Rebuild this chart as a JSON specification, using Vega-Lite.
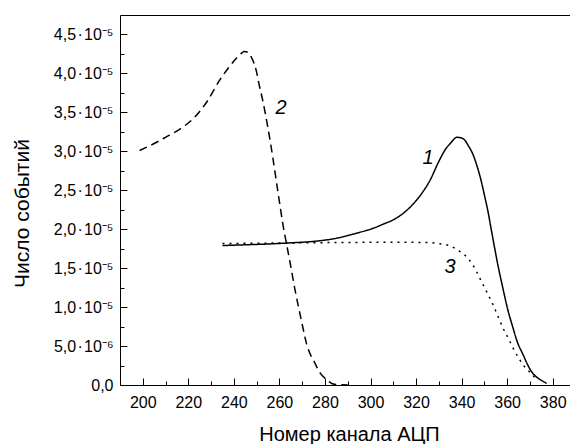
{
  "$schema": "https://vega.github.io/schema/vega-lite/v6.json",
  "width": 450,
  "height": 370,
  "autosize": {"type": "none"},
  "padding": {"left": 120, "top": 15, "right": 0, "bottom": 59},
  "background": "white",
  "config": {
    "view": {"stroke": null},
    "font": "Liberation Sans",
    "axis": {
      "grid": false,
      "tickColor": "black",
      "domainColor": "black",
      "labelColor": "black",
      "titleColor": "black",
      "labelFont": "Liberation Sans",
      "titleFont": "Liberation Sans",
      "labelFontSize": 16,
      "titleFontSize": 20,
      "titleFontWeight": "normal",
      "tickWidth": 1,
      "domainWidth": 1,
      "labelOverlap": false,
      "labelFlush": false
    }
  },
  "datasets": {
    "curves": [
      {"curve": "1", "x": 235, "y": 1.79e-5},
      {"curve": "1", "x": 245, "y": 1.80e-5},
      {"curve": "1", "x": 255, "y": 1.81e-5},
      {"curve": "1", "x": 265, "y": 1.825e-5},
      {"curve": "1", "x": 273.5, "y": 1.84e-5},
      {"curve": "1", "x": 280, "y": 1.86e-5},
      {"curve": "1", "x": 286, "y": 1.89e-5},
      {"curve": "1", "x": 294, "y": 1.95e-5},
      {"curve": "1", "x": 301, "y": 2.01e-5},
      {"curve": "1", "x": 306, "y": 2.07e-5},
      {"curve": "1", "x": 310, "y": 2.12e-5},
      {"curve": "1", "x": 315, "y": 2.22e-5},
      {"curve": "1", "x": 320, "y": 2.365e-5},
      {"curve": "1", "x": 323, "y": 2.48e-5},
      {"curve": "1", "x": 326, "y": 2.62e-5},
      {"curve": "1", "x": 330, "y": 2.87e-5},
      {"curve": "1", "x": 333, "y": 3.03e-5},
      {"curve": "1", "x": 335, "y": 3.10e-5},
      {"curve": "1", "x": 338, "y": 3.18e-5},
      {"curve": "1", "x": 340, "y": 3.17e-5},
      {"curve": "1", "x": 341.5, "y": 3.14e-5},
      {"curve": "1", "x": 343, "y": 3.07e-5},
      {"curve": "1", "x": 345, "y": 2.96e-5},
      {"curve": "1", "x": 347, "y": 2.79e-5},
      {"curve": "1", "x": 348.6, "y": 2.62e-5},
      {"curve": "1", "x": 350, "y": 2.44e-5},
      {"curve": "1", "x": 351.5, "y": 2.24e-5},
      {"curve": "1", "x": 353, "y": 2.00e-5},
      {"curve": "1", "x": 354.5, "y": 1.76e-5},
      {"curve": "1", "x": 356, "y": 1.53e-5},
      {"curve": "1", "x": 358, "y": 1.26e-5},
      {"curve": "1", "x": 360, "y": 1.00e-5},
      {"curve": "1", "x": 362.5, "y": 0.74e-5},
      {"curve": "1", "x": 364.5, "y": 0.55e-5},
      {"curve": "1", "x": 367, "y": 0.39e-5},
      {"curve": "1", "x": 369, "y": 0.26e-5},
      {"curve": "1", "x": 371, "y": 0.16e-5},
      {"curve": "1", "x": 373, "y": 0.10e-5},
      {"curve": "1", "x": 375, "y": 0.06e-5},
      {"curve": "1", "x": 377.4, "y": 0.02e-5},
      {"curve": "2", "x": 198.6, "y": 3.01e-5},
      {"curve": "2", "x": 205, "y": 3.10e-5},
      {"curve": "2", "x": 210, "y": 3.18e-5},
      {"curve": "2", "x": 216, "y": 3.28e-5},
      {"curve": "2", "x": 222, "y": 3.415e-5},
      {"curve": "2", "x": 228, "y": 3.63e-5},
      {"curve": "2", "x": 233.7, "y": 3.91e-5},
      {"curve": "2", "x": 239.5, "y": 4.14e-5},
      {"curve": "2", "x": 243, "y": 4.25e-5},
      {"curve": "2", "x": 244.5, "y": 4.28e-5},
      {"curve": "2", "x": 246.2, "y": 4.27e-5},
      {"curve": "2", "x": 248, "y": 4.19e-5},
      {"curve": "2", "x": 249.8, "y": 4.04e-5},
      {"curve": "2", "x": 251, "y": 3.87e-5},
      {"curve": "2", "x": 252.7, "y": 3.65e-5},
      {"curve": "2", "x": 254.9, "y": 3.31e-5},
      {"curve": "2", "x": 257.1, "y": 2.92e-5},
      {"curve": "2", "x": 259.3, "y": 2.49e-5},
      {"curve": "2", "x": 261.5, "y": 2.07e-5},
      {"curve": "2", "x": 264.5, "y": 1.60e-5},
      {"curve": "2", "x": 267, "y": 1.20e-5},
      {"curve": "2", "x": 269.5, "y": 0.85e-5},
      {"curve": "2", "x": 272, "y": 0.52e-5},
      {"curve": "2", "x": 275.6, "y": 0.28e-5},
      {"curve": "2", "x": 278, "y": 0.15e-5},
      {"curve": "2", "x": 280.7, "y": 0.07e-5},
      {"curve": "2", "x": 284, "y": 0.01e-5},
      {"curve": "2", "x": 290, "y": 0},
      {"curve": "3", "x": 235, "y": 1.815e-5},
      {"curve": "3", "x": 250, "y": 1.82e-5},
      {"curve": "3", "x": 270, "y": 1.825e-5},
      {"curve": "3", "x": 290, "y": 1.83e-5},
      {"curve": "3", "x": 310, "y": 1.832e-5},
      {"curve": "3", "x": 325, "y": 1.83e-5},
      {"curve": "3", "x": 330, "y": 1.815e-5},
      {"curve": "3", "x": 334.9, "y": 1.787e-5},
      {"curve": "3", "x": 339, "y": 1.72e-5},
      {"curve": "3", "x": 343, "y": 1.62e-5},
      {"curve": "3", "x": 346.4, "y": 1.465e-5},
      {"curve": "3", "x": 349.3, "y": 1.294e-5},
      {"curve": "3", "x": 351.5, "y": 1.17e-5},
      {"curve": "3", "x": 353.7, "y": 1.037e-5},
      {"curve": "3", "x": 356, "y": 0.88e-5},
      {"curve": "3", "x": 358.1, "y": 0.737e-5},
      {"curve": "3", "x": 360.5, "y": 0.60e-5},
      {"curve": "3", "x": 362.5, "y": 0.48e-5},
      {"curve": "3", "x": 365.4, "y": 0.33e-5},
      {"curve": "3", "x": 367.5, "y": 0.24e-5},
      {"curve": "3", "x": 369.8, "y": 0.17e-5},
      {"curve": "3", "x": 372, "y": 0.10e-5}
    ],
    "labels": [
      {"label": "1", "x": 325.3, "y": 2.92e-5},
      {"label": "2", "x": 260.7, "y": 3.556e-5},
      {"label": "3", "x": 334.9, "y": 1.52e-5}
    ]
  },
  "layer": [
    {
      "data": {"name": "curves"},
      "mark": {"type": "line", "color": "black", "interpolate": "monotone"},
      "encoding": {
        "x": {
          "field": "x", "type": "quantitative",
          "scale": {"domain": [190, 387.6], "nice": false, "zero": false},
          "axis": {
            "orient": "bottom",
            "values": [200, 220, 240, 260, 280, 300, 320, 340, 360, 380],
            "ticks": false,
            "labelPadding": 9,
            "title": "Номер канала АЦП",
            "titleX": 229,
            "titleY": 55,
            "titleBaseline": "alphabetic"
          }
        },
        "y": {
          "field": "y", "type": "quantitative",
          "scale": {"domain": [0, 4.75e-5], "nice": false, "zero": false},
          "axis": {
            "orient": "left",
            "values": [0, 5e-6, 1e-5, 1.5e-5, 2e-5, 2.5e-5, 3e-5, 3.5e-5, 4e-5, 4.5e-5],
            "ticks": false,
            "labelPadding": 7,
            "labelExpr": "datum.value == 0 ? '0,0' : datum.value < 9e-6 ? '5,0\u200a·\u200a10⁻⁶' : replace(format(datum.value * 100000, '.1f'), '.', ',') + '\u200a·\u200a10⁻⁵'",
            "title": "Число событий",
            "titleFontSize": 21,
            "titleX": -92,
            "titleY": 198,
            "titleAngle": -90,
            "titleAlign": "center",
            "titleBaseline": "alphabetic"
          }
        },
        "detail": {"field": "curve", "type": "nominal"},
        "strokeDash": {
          "field": "curve", "type": "nominal",
          "scale": {"domain": ["1", "2", "3"], "range": [[1, 0], [8, 5], [2, 5]]},
          "legend": null
        },
        "strokeWidth": {
          "field": "curve", "type": "ordinal",
          "scale": {"domain": ["1", "2", "3"], "range": [1.5, 1.5, 2]},
          "legend": null
        }
      }
    },
    {
      "data": {"name": "labels"},
      "mark": {"type": "text", "color": "black", "font": "Liberation Sans", "fontSize": 20, "fontStyle": "italic", "align": "center", "baseline": "middle"},
      "encoding": {
        "x": {
          "field": "x", "type": "quantitative",
          "axis": {
            "orient": "bottom",
            "offset": -7,
            "values": [200, 220, 240, 260, 280, 300, 320, 340, 360, 380],
            "tickSize": 7,
            "labels": false,
            "domain": false,
            "title": null
          }
        },
        "y": {
          "field": "y", "type": "quantitative",
          "axis": {
            "orient": "left",
            "offset": -7,
            "values": [0, 5e-6, 1e-5, 1.5e-5, 2e-5, 2.5e-5, 3e-5, 3.5e-5, 4e-5, 4.5e-5],
            "tickSize": 7,
            "labels": false,
            "domain": false,
            "title": null
          }
        },
        "text": {"field": "label"}
      }
    },
    {
      "data": {"name": "labels"},
      "mark": {"type": "point", "opacity": 0},
      "encoding": {
        "x": {
          "field": "x", "type": "quantitative",
          "axis": {
            "orient": "bottom",
            "offset": -4,
            "values": [210, 230, 250, 270, 290, 310, 330, 350, 370],
            "tickSize": 4,
            "labels": false,
            "domain": false,
            "title": null
          }
        },
        "y": {
          "field": "y", "type": "quantitative",
          "axis": {
            "orient": "left",
            "offset": -4,
            "values": [2.5e-6, 7.5e-6, 1.25e-5, 1.75e-5, 2.25e-5, 2.75e-5, 3.25e-5, 3.75e-5, 4.25e-5],
            "tickSize": 4,
            "labels": false,
            "domain": false,
            "title": null
          }
        }
      }
    },
    {
      "data": {"name": "labels"},
      "mark": {"type": "point", "opacity": 0},
      "encoding": {
        "x": {
          "field": "x", "type": "quantitative",
          "axis": {
            "orient": "top",
            "ticks": false,
            "labels": false,
            "domain": true,
            "title": null
          }
        },
        "y": {"field": "y", "type": "quantitative", "axis": null}
      }
    }
  ],
  "resolve": {"axis": {"x": "independent", "y": "independent"}}
}
